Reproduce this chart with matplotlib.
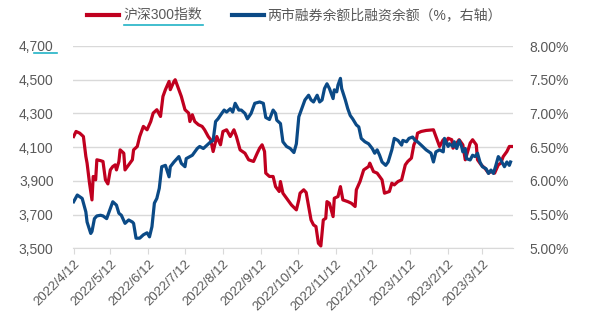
import matplotlib
matplotlib.use("Agg")
import matplotlib.pyplot as plt
import matplotlib.ticker as mticker
from matplotlib.lines import Line2D
import pandas as pd

plt.rcParams['font.family'] = ['Liberation Sans', 'Noto Sans CJK SC', 'DejaVu Sans']

start = pd.Timestamp('2022-04-12')

# 沪深300指数 (left axis), days counted from 2022-04-12
hs300_days = [0, 2, 5, 8, 10, 11, 13, 15, 16, 18, 19, 22, 24, 26, 28, 30, 32, 34, 35, 37,
              38, 41, 42, 45, 48, 49, 52, 54, 57, 60, 63, 65, 68, 71, 73, 75, 78, 79, 82, 83,
              86, 88, 91, 94, 95, 97, 99, 102, 105, 107, 110, 112, 114, 117, 120, 122, 125, 128, 131, 133,
              136, 140, 143, 147, 150, 152, 154, 156, 157, 160, 163, 165, 168, 169, 171, 174, 178, 182, 184, 185,
              188, 190, 192, 194, 196, 198, 200, 202, 204, 206, 207, 209, 212, 213, 216, 218, 220, 224, 227, 230,
              231, 234, 237, 241, 242, 245, 248, 252, 254, 258, 260, 262, 265, 268, 271, 273, 276, 278, 280, 281,
              284, 288, 294, 296, 299, 302, 304, 306, 309, 310, 313, 315, 318, 320, 324, 326, 329, 330, 333, 336,
              339, 341, 344, 347, 349, 351, 354, 356, 358]
hs300 = [4163, 4193, 4183, 4163, 4045, 4005, 3886, 3787, 3926, 3906, 4025, 4020, 4015, 3906, 3882, 3965, 3985, 3995, 3965, 4015,
         4084, 4064, 3965, 3995, 4025, 4084, 4104, 4163, 4223, 4203, 4252, 4302, 4322, 4282, 4401, 4441, 4490, 4441, 4490, 4500,
         4441, 4401, 4322, 4302, 4252, 4292, 4252, 4233, 4223, 4203, 4163, 4144, 4074, 4163, 4114, 4193, 4203, 4163, 4203, 4163,
         4084, 4064, 4025, 4015, 4064, 4094, 4114, 4074, 3946, 3926, 3926, 3866, 3837, 3896, 3827, 3797, 3757, 3728, 3787, 3827,
         3847, 3831, 3748, 3668, 3639, 3629, 3530, 3514, 3668, 3678, 3777, 3767, 3688, 3797, 3807, 3866, 3787, 3777, 3767, 3748,
         3847, 3896, 3965, 3985, 4005, 3955, 3946, 3906, 3827, 3837, 3886, 3876, 3896, 3906, 3995, 4015, 4035, 4114, 4144, 4183,
         4193, 4199, 4203, 4163, 4104, 4144, 4124, 4153, 4144, 4094, 4124, 4144, 4114, 4025, 4124, 4144, 4114, 4025, 3995, 3975,
         3946, 3955, 3946, 3995, 4005, 4044, 4074, 4104, 4104]

# 两市融券余额比融资余额 (%, right axis)
ratio_days = [0, 3, 7, 10, 11, 14, 15, 17, 19, 22, 24, 27, 30, 32, 35, 37, 39, 42, 45, 48,
              49, 51, 54, 57, 60, 62, 64, 66, 68, 70, 72, 75, 78, 79, 82, 86, 88, 91, 92, 97,
              101, 103, 106, 109, 112, 114, 116, 118, 121, 123, 125, 128, 130, 132, 135, 137, 140, 142, 145, 148,
              152, 155, 157, 160, 163, 165, 166, 169, 171, 174, 177, 180, 182, 184, 186, 189, 192, 194, 196, 199,
              201, 203, 205, 207, 209, 212, 213, 215, 216, 218, 219, 222, 224, 226, 228, 231, 233, 235, 238, 241,
              244, 246, 248, 250, 252, 255, 257, 260, 262, 265, 268, 269, 272, 274, 277, 279, 281, 284, 288, 292,
              294, 296, 299, 302, 303, 306, 307, 310, 311, 313, 315, 317, 318, 320, 321, 324, 326, 328, 330, 332,
              334, 337, 339, 341, 343, 345, 347, 349, 352, 354, 356, 357]
ratio = [5.69, 5.79, 5.74, 5.54, 5.39, 5.22, 5.25, 5.44, 5.48, 5.49, 5.48, 5.44, 5.59, 5.69, 5.64, 5.52, 5.49, 5.37, 5.42, 5.39,
         5.37, 5.15, 5.15, 5.20, 5.23, 5.17, 5.32, 5.67, 5.74, 5.89, 6.21, 6.23, 6.06, 6.21, 6.28, 6.36, 6.26, 6.21, 6.33, 6.38,
         6.48, 6.51, 6.48, 6.53, 6.58, 6.60, 6.88, 6.92, 7.00, 7.05, 7.02, 7.07, 7.02, 7.15, 7.05, 7.05, 7.00, 6.92, 7.00, 7.15,
         7.17, 7.15, 6.94, 6.91, 7.05, 7.00, 6.90, 6.85, 6.58, 6.51, 6.48, 6.42, 6.55, 6.95, 7.05, 7.20, 7.27, 7.20, 7.17, 7.27,
         7.17, 7.20, 7.37, 7.44, 7.37, 7.22, 7.35, 7.32, 7.42, 7.52, 7.37, 7.20, 7.07, 6.97, 6.92, 6.83, 6.80, 6.63, 6.58, 6.55,
         6.48, 6.41, 6.46, 6.38, 6.28, 6.23, 6.28, 6.46, 6.63, 6.60, 6.53, 6.60, 6.58, 6.63, 6.65, 6.60, 6.58, 6.53, 6.46, 6.41,
         6.28, 6.43, 6.46, 6.43, 6.63, 6.51, 6.55, 6.51, 6.58, 6.48, 6.60, 6.51, 6.43, 6.48, 6.33, 6.31, 6.38, 6.36, 6.41, 6.28,
         6.21, 6.18, 6.11, 6.16, 6.11, 6.23, 6.36, 6.31, 6.21, 6.28, 6.23, 6.28]

tick_dates = ['2022-04-12', '2022-05-12', '2022-06-12', '2022-07-12', '2022-08-12', '2022-09-12',
              '2022-10-12', '2022-11-12', '2022-12-12', '2023-01-12', '2023-02-12', '2023-03-12']
left_ticks = [3500, 3700, 3900, 4100, 4300, 4500, 4700]
right_ticks = [5.0, 5.5, 6.0, 6.5, 7.0, 7.5, 8.0]

red = '#C0001F'
blue = '#0B4A86'
grey_txt = '#595959'
grid_c = '#D9D9D9'
cyan = '#21B3C6'

hs_x = start + pd.to_timedelta(hs300_days, unit='D')
ra_x = start + pd.to_timedelta(ratio_days, unit='D')
ticks = pd.to_datetime(tick_dates)

fig = plt.figure(figsize=(5.91, 3.33), dpi=100)
ax = fig.add_axes([73 / 591, 1 - 248.3 / 333, 440 / 591, 202.3 / 333])
ax2 = ax.twinx()

ax.plot(hs_x, hs300, color=red, lw=2.3, solid_joinstyle='round', zorder=3)
ax2.plot(ra_x, ratio, color=blue, lw=2.3, solid_joinstyle='round', zorder=3)

ax.set_ylim(3500, 4700)
ax.set_yticks(left_ticks)
ax.yaxis.set_major_formatter(mticker.StrMethodFormatter('{x:,.0f}'))
ax2.set_ylim(5, 8)
ax2.set_yticks(right_ticks)
ax2.yaxis.set_major_formatter(mticker.StrMethodFormatter('{x:.2f}%'))

ax.set_xlim(start - pd.Timedelta(days=0.5), start + pd.Timedelta(days=359))
ax.set_xticks(ticks)
ax.set_xticklabels([f'{d.year}/{d.month}/{d.day}' for d in ticks], rotation=45,
                   ha='right', rotation_mode='anchor')

ax.grid(axis='y', color=grid_c, lw=1)
ax.set_axisbelow(True)
for a in (ax, ax2):
    for s in a.spines.values():
        s.set_visible(False)
    a.tick_params(axis='y', length=0, labelsize=10, colors=grey_txt)
ax.spines['bottom'].set_visible(True)
ax.spines['bottom'].set_color(grid_c)
ax.tick_params(axis='y', pad=14)
ax2.tick_params(axis='y', pad=12)
ax.tick_params(axis='x', length=4, color=grid_c, labelsize=9.5, labelcolor=grey_txt, pad=3)

# legend
ly = 1 - 15 / 333
fig.add_artist(Line2D([87 / 591, 119 / 591], [ly, ly], color=red, lw=3))
fig.text(123 / 591, ly, '沪深300指数', color=grey_txt, fontsize=10, va='center')
fig.add_artist(Line2D([232 / 591, 264 / 591], [ly, ly], color=blue, lw=3))
fig.text(267 / 591, ly, '两市融券余额比融资余额（%，右轴）', color=grey_txt, fontsize=10, va='center')

# cyan underlines seen in the screenshot
fig.add_artist(Line2D([124 / 591, 203 / 591], [1 - 24.5 / 333] * 2, color=cyan, lw=1.2))
fig.add_artist(Line2D([34 / 591, 57 / 591], [1 - 52.5 / 333] * 2, color=cyan, lw=1.2))

fig.savefig('out.png', dpi=100)
